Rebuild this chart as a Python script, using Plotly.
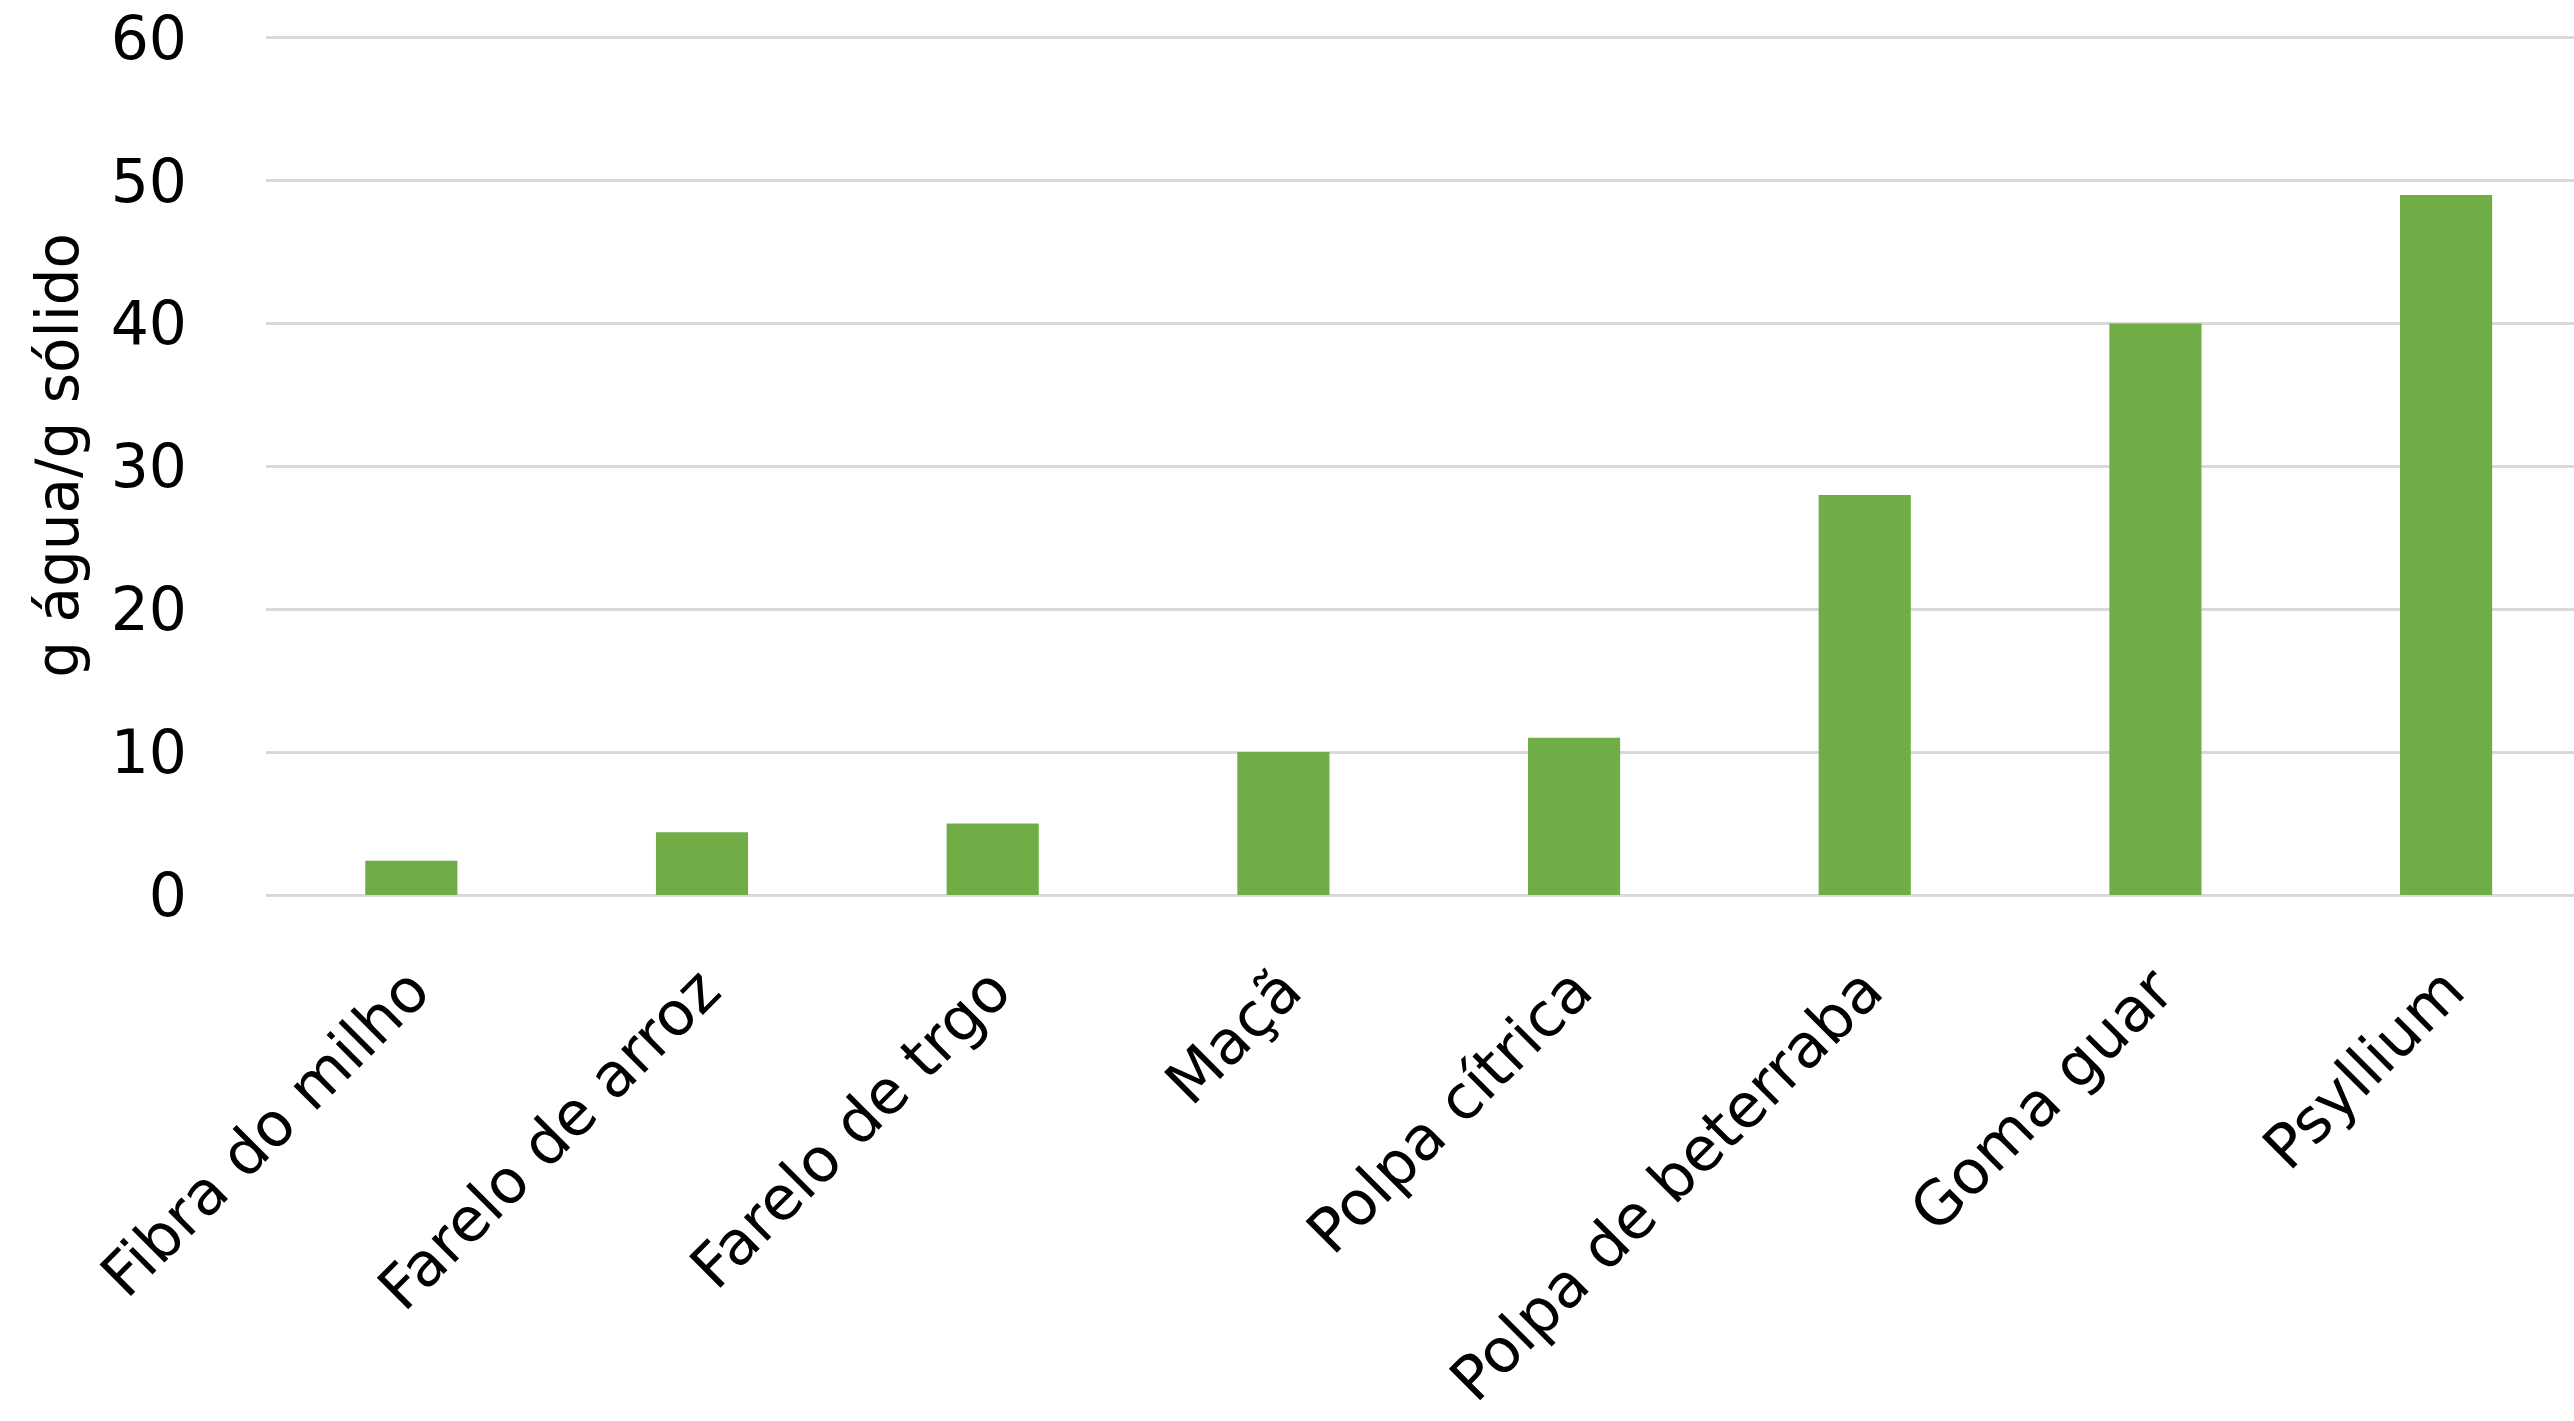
import plotly.graph_objects as go

categories = ["Fibra do milho", "Farelo de arroz", "Farelo de trgo", "Maçã",
              "Polpa cítrica", "Polpa de beterraba", "Goma guar", "Psyllium"]
values = [2.4, 4.4, 5.0, 10, 11, 28, 40, 49]
y_ticks = [0, 10, 20, 30, 40, 50, 60]
y_title = "g água/g sólido"

W, H = 2574, 1421
y_top_px, y_zero_px = 38, 895
y_max = 60.4
plot_h = (y_zero_px - y_top_px) * y_max / 60
left, right = 266, 0
bottom = H - y_zero_px
top = H - bottom - plot_h
FONT = "DejaVu Sans"

fig = go.Figure(go.Bar(
    x=list(range(len(categories))),
    y=values,
    width=0.317,
    marker=dict(color="#70AD47", line=dict(width=0)),
))

fig.update_layout(
    width=W, height=H,
    margin=dict(l=left, r=right, t=top, b=bottom, autoexpand=False),
    paper_bgcolor="white", plot_bgcolor="white",
    showlegend=False,
    font=dict(family=FONT, size=60, color="#000000"),
)

fig.update_xaxes(
    range=[-0.5, 7.44],
    tickmode="array",
    tickvals=list(range(len(categories))),
    ticktext=categories,
    tickangle=-45,
    showgrid=False, showline=False, zeroline=False,
    ticks="", ticklabelstandoff=46,
    tickfont=dict(family=FONT, size=61, color="#000000"),
    automargin=False,
)

fig.update_yaxes(
    range=[0, y_max],
    tickmode="array",
    tickvals=y_ticks,
    ticktext=[str(v) for v in y_ticks],
    showgrid=True, gridcolor="#D9D9D9", gridwidth=3,
    zeroline=True, zerolinecolor="#D9D9D9", zerolinewidth=3,
    showline=False, ticks="", ticklabelstandoff=78,
    tickfont=dict(family=FONT, size=60, color="#000000"),
    automargin=False,
)

fig.add_annotation(
    text=y_title, xref="paper", yref="paper",
    x=(58 - left) / (W - left - right), y=(y_zero_px - 456) / plot_h,
    textangle=-90, showarrow=False,
    xanchor="center", yanchor="middle",
    font=dict(family=FONT, size=58, color="#000000"),
)

fig.write_html("out.html", config={"displayModeBar": False},
               post_script="document.body.style.margin='0';")
